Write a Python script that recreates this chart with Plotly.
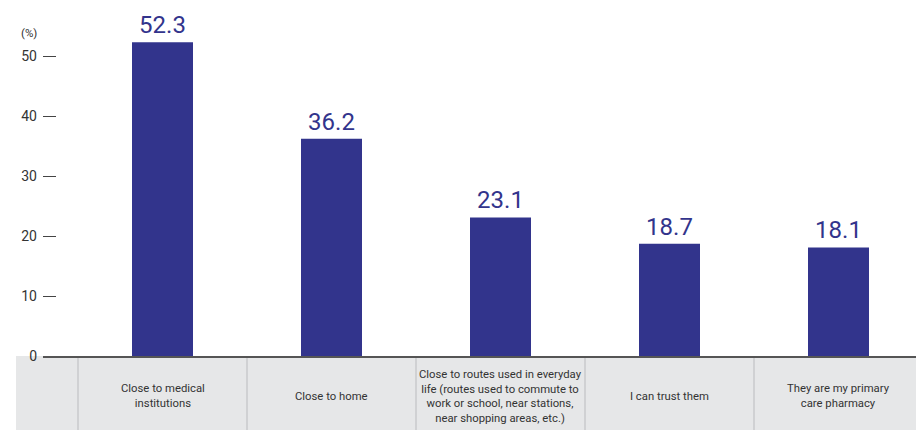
import plotly.graph_objects as go

# Survey: reasons for choosing a pharmacy (%)
categories = [
    "Close to medical<br>institutions",
    "Close to home",
    "Close to routes used in everyday<br>life (routes used to commute to<br>work or school, near stations,<br>near shopping areas, etc.)",
    "I can trust them",
    "They are my primary<br>care pharmacy",
]
values = [52.3, 36.2, 23.1, 18.7, 18.1]
y_ticks = [0, 10, 20, 30, 40, 50]

W, H = 916, 430
M_L, M_R, M_T, M_B = 43, 0, 0, 74
PLOT_W = W - M_L - M_R
PLOT_H = H - M_T - M_B

CAT_PX = 169  # width of one category column in pixels
LEFT_PAD = 35 / CAT_PX
XR = [-0.5 - LEFT_PAD, -0.5 + PLOT_W / CAT_PX - LEFT_PAD]
YR = [0, PLOT_H / 6.0]

FONT = "Roboto, Liberation Sans, sans-serif"
BAR = "#32348c"
TXT = "#333333"
BAND = "#e6e7e8"
DIV = "#c9cacc"


def xpaper(v):
    return (v - XR[0]) / (XR[1] - XR[0])


x = list(range(len(categories)))

fig = go.Figure(
    go.Bar(
        x=x,
        y=values,
        width=61 / CAT_PX,
        marker=dict(color=BAR, line=dict(width=0)),
        text=[f"{v:.1f}" for v in values],
        textposition="outside",
        textfont=dict(family=FONT, size=24, color=BAR),
        cliponaxis=False,
        hoverinfo="skip",
    )
)

band_bottom = -(H - (M_T + PLOT_H)) / PLOT_H
shapes = [
    dict(
        type="rect", xref="paper", yref="paper",
        x0=-(M_L - 16) / PLOT_W, x1=1, y0=band_bottom, y1=0,
        fillcolor=BAND, line=dict(width=0), layer="below",
    )
]
for b in [i - 0.5 for i in range(len(categories) + 1)]:
    xp = xpaper(b)
    if 0 <= xp <= 1:
        shapes.append(
            dict(
                type="line", xref="paper", yref="paper",
                x0=xp, x1=xp, y0=band_bottom, y1=0,
                line=dict(color=DIV, width=1.5), layer="below",
            )
        )

annotations = [
    dict(
        x=i, y=-40 / PLOT_H, xref="x", yref="paper",
        text=c, showarrow=False, xanchor="center", yanchor="middle",
        align="center", font=dict(family=FONT, size=11.3, color=TXT),
    )
    for i, c in enumerate(categories)
]
annotations.append(
    dict(
        x=-(M_L - 29) / PLOT_W, y=(PLOT_H - 33) / PLOT_H,
        xref="paper", yref="paper", text="(%)", showarrow=False,
        xanchor="center", yanchor="middle",
        font=dict(family=FONT, size=11.5, color=TXT),
    )
)

fig.update_layout(
    width=W, height=H,
    margin=dict(l=M_L, r=M_R, t=M_T, b=M_B),
    paper_bgcolor="white", plot_bgcolor="white",
    showlegend=False,
    shapes=shapes,
    annotations=annotations,
    xaxis=dict(
        range=XR, showticklabels=False, showgrid=False, zeroline=False,
        showline=True, linecolor="#555555", linewidth=1.5, ticks="",
        fixedrange=True,
    ),
    yaxis=dict(
        range=YR, tickvals=y_ticks, showgrid=False, zeroline=False,
        showline=False, ticks="inside", ticklen=13, tickwidth=1.2,
        tickcolor="#444444", ticklabelstandoff=5,
        tickfont=dict(family=FONT, size=14, color=TXT),
        fixedrange=True,
    ),
)

fig.write_html("out.html")
